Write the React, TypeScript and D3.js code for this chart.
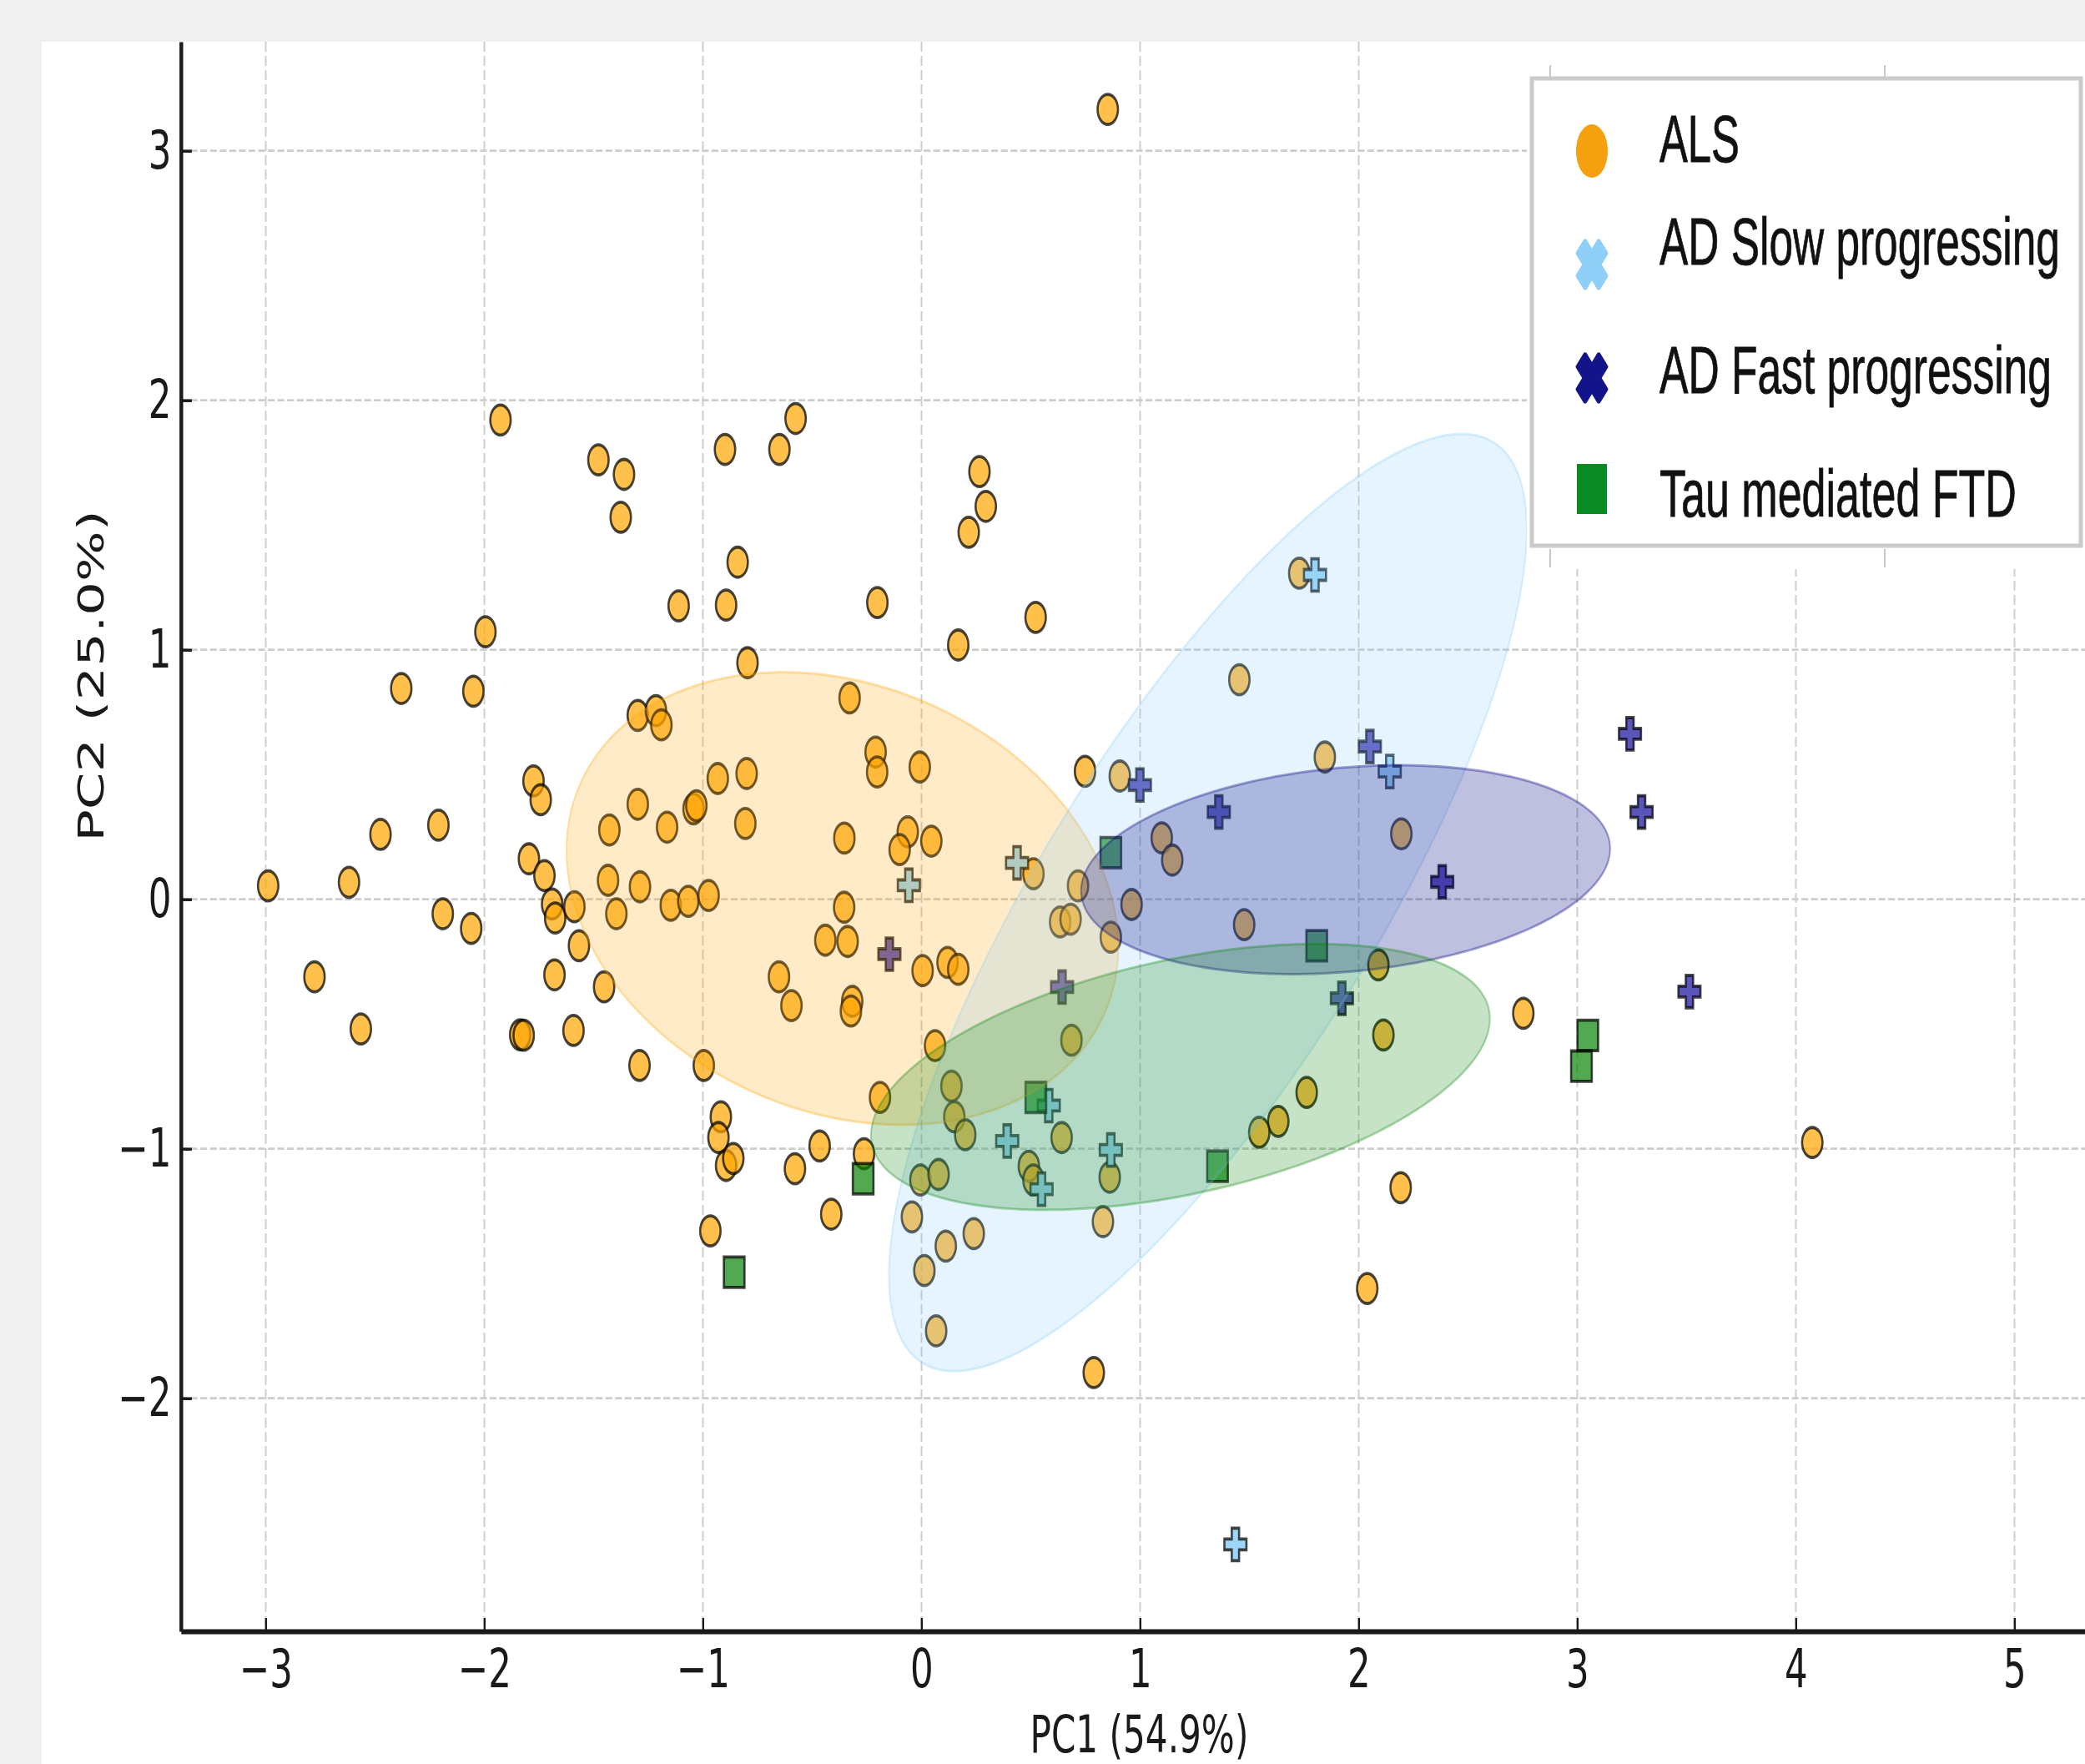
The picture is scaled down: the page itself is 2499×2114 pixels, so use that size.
import { useEffect, useRef } from "react";
import * as d3 from "d3";

// picture size and plot frame (px)
const W = 2499;
const H = 2114;
const PLOT = { left: 217, right: 2499, top: 50, bottom: 1955 };
// the whole figure is squashed horizontally, so draw in a wider virtual space
const K = 0.68;

const xTicks = [-3, -2, -1, 0, 1, 2, 3, 4, 5];
const yTicks = [-2, -1, 0, 1, 2, 3];

const groupNames = ["ALS", "AD Slow progressing", "AD Fast progressing", "Tau mediated FTD"];

// PC1, PC2 scores
const alsPoints: [number, number][] = [
  [0.852, 3.166], [-1.926, 1.921], [-0.576, 1.927], [-0.899, 1.803], [-0.65, 1.803],
  [-1.478, 1.761], [-1.361, 1.703], [-1.376, 1.531], [0.265, 1.714], [0.294, 1.575],
  [0.216, 1.471], [-0.841, 1.351], [-1.111, 1.176], [-0.894, 1.179], [-0.202, 1.189],
  [0.522, 1.13], [-1.995, 1.072], [0.168, 1.019], [-2.38, 0.845], [-2.05, 0.834],
  [-0.796, 0.948], [-0.329, 0.807], [1.454, 0.88], [1.728, 1.307], [-1.298, 0.737],
  [-1.215, 0.756], [-1.19, 0.699], [-0.21, 0.59], [-0.203, 0.51], [-0.008, 0.53],
  [0.748, 0.513], [0.907, 0.494], [1.845, 0.57], [-1.775, 0.474], [-1.742, 0.399],
  [-0.932, 0.484], [-0.8, 0.504], [-1.298, 0.381], [-1.043, 0.362], [-1.03, 0.375],
  [-1.428, 0.278], [-1.164, 0.289], [-0.806, 0.304], [-2.475, 0.26], [-2.21, 0.297],
  [-0.353, 0.245], [-0.063, 0.27], [-0.1, 0.199], [0.045, 0.233], [1.099, 0.246],
  [1.147, 0.157], [2.195, 0.262], [-1.796, 0.162], [-1.725, 0.095], [-2.989, 0.054],
  [-2.619, 0.068], [-1.434, 0.076], [-1.288, 0.05], [0.512, 0.102], [0.716, 0.054],
  [-1.69, -0.019], [-1.676, -0.075], [-1.588, -0.03], [-1.396, -0.058], [-1.147, -0.024],
  [-1.067, -0.008], [-0.974, 0.015], [-0.354, -0.032], [0.961, -0.021], [-2.19, -0.058],
  [-2.06, -0.117], [0.634, -0.091], [0.682, -0.08], [0.866, -0.152], [1.476, -0.102],
  [-0.44, -0.164], [-0.338, -0.169], [-1.567, -0.186], [-2.777, -0.311], [-1.679, -0.303],
  [-1.452, -0.351], [-0.652, -0.311], [0.005, -0.286], [0.119, -0.253], [0.168, -0.281],
  [2.09, -0.263], [-0.317, -0.409], [-0.323, -0.448], [-0.595, -0.426], [-2.565, -0.52],
  [-1.836, -0.543], [-1.82, -0.545], [-1.592, -0.526], [2.753, -0.457], [0.686, -0.565],
  [2.113, -0.544], [0.062, -0.587], [-1.29, -0.666], [-0.996, -0.666], [-0.19, -0.794],
  [0.137, -0.749], [0.15, -0.872], [0.2, -0.944], [1.762, -0.774], [1.632, -0.89],
  [1.545, -0.934], [0.641, -0.955], [-0.918, -0.872], [-0.929, -0.955], [-0.894, -1.067],
  [-0.861, -1.039], [-0.466, -0.989], [-0.263, -1.02], [-0.579, -1.08], [-0.005, -1.125],
  [0.078, -1.103], [0.491, -1.07], [0.512, -1.125], [0.861, -1.114], [2.192, -1.156],
  [4.075, -0.975], [-0.413, -1.262], [-0.044, -1.273], [-0.966, -1.329], [0.111, -1.39],
  [0.239, -1.34], [0.83, -1.292], [0.013, -1.488], [0.067, -1.73], [2.039, -1.56],
  [0.788, -1.897],
];

const adSlowPoints: [number, number][] = [
  [1.8, 1.3], [2.142, 0.512], [0.437, 0.146], [-0.058, 0.056], [0.582, -0.827],
  [0.392, -0.969], [0.866, -1.005], [0.549, -1.162], [1.436, -2.586],
];

const adFastPoints: [number, number][] = [
  [3.241, 0.663], [2.051, 0.612], [3.294, 0.35], [1.36, 0.35], [0.999, 0.458],
  [2.382, 0.07], [-0.147, -0.22], [0.643, -0.352], [1.923, -0.397], [3.513, -0.37],
];

const tauPoints: [number, number][] = [
  [0.866, 0.187], [1.808, -0.186], [0.523, -0.794], [1.354, -1.07], [-0.267, -1.12],
  [-0.857, -1.495], [3.048, -0.546], [3.019, -0.669],
];

// confidence ellipses: [centre x, centre y, width, height, angle in degrees]
const alsEllipse = [-0.362, 0.003, 2.58, 1.734, -16.2];
const adSlowEllipse = [1.31, -0.013, 4.525, 1.467, 53.9];
const adFastEllipse = [1.94, 0.1185, 2.427, 0.818, 4.5];
const tauEllipse = [1.1845, -0.712, 2.874, 0.944, 10.5];

const FONT = "'DejaVu Sans', sans-serif";

const App = () => {
  const svgRef = useRef<SVGSVGElement>(null);

  useEffect(() => {
    const svg = d3.select(svgRef.current);
    svg.selectAll("*").remove();

    svg.append("rect").attr("width", W).attr("height", H).attr("fill", "#f0f0f0");
    svg.append("rect").attr("x", 50).attr("y", 50).attr("width", W - 50).attr("height", H - 50).attr("fill", "#fff");

    // scales in the virtual (unsquashed) space
    const x = d3.scaleLinear().domain([-3, 5]).range([318.5 / K, 2414.5 / K]);
    x.domain([x.invert(PLOT.left / K), x.invert(PLOT.right / K)]).range([PLOT.left / K, PLOT.right / K]);
    const y = d3.scaleLinear().domain([-2, 3]).range([1675.7, 180.7]);
    y.domain([y.invert(PLOT.bottom), y.invert(PLOT.top)]).range([PLOT.bottom, PLOT.top]);

    const g = svg.append("g").attr("transform", `scale(${K},1)`);

    // grid
    g.selectAll(".vgrid")
      .data(xTicks)
      .join("line")
      .attr("x1", (d) => x(d))
      .attr("x2", (d) => x(d))
      .attr("y1", PLOT.top)
      .attr("y2", PLOT.bottom)
      .attr("stroke", "#cdcdcd")
      .attr("stroke-width", 2.8)
      .attr("stroke-dasharray", "12,5");
    g.selectAll(".hgrid")
      .data(yTicks)
      .join("line")
      .attr("x1", PLOT.left / K)
      .attr("x2", PLOT.right / K)
      .attr("y1", (d) => y(d))
      .attr("y2", (d) => y(d))
      .attr("stroke", "#cdcdcd")
      .attr("stroke-width", 2.8)
      .attr("stroke-dasharray", "12,5");

    // points
    const stroke = (sel: any) => sel.attr("stroke", "#000").attr("stroke-opacity", 0.72).attr("stroke-width", 3.8);

    g.append("g")
      .selectAll("circle")
      .data(alsPoints)
      .join("circle")
      .attr("cx", (d) => x(d[0]))
      .attr("cy", (d) => y(d[1]))
      .attr("r", 18)
      .attr("fill", "#ffa500")
      .attr("fill-opacity", 0.7)
      .call(stroke);

    const cross = d3.symbol(d3.symbolCross, 840);
    const square = d3.symbol(d3.symbolSquare, 1330);

    g.append("g")
      .selectAll("path")
      .data(adSlowPoints)
      .join("path")
      .attr("d", cross)
      .attr("transform", (d) => `translate(${x(d[0])},${y(d[1])})`)
      .attr("fill", "#9dd6f7")
      .call(stroke);

    g.append("g")
      .selectAll("path")
      .data(adFastPoints)
      .join("path")
      .attr("d", cross)
      .attr("transform", (d) => `translate(${x(d[0])},${y(d[1])})`)
      .attr("fill", "#5b55b9")
      .call(stroke);

    g.append("g")
      .selectAll("path")
      .data(tauPoints)
      .join("path")
      .attr("d", square)
      .attr("transform", (d) => `translate(${x(d[0])},${y(d[1])})`)
      .attr("fill", "#008000")
      .attr("fill-opacity", 0.68)
      .call(stroke);

    // confidence ellipses, built in data space and mapped through the scales
    const ellipsePath = (e: number[]) => {
      const [cx, cy, w, h, ang] = e;
      const a = (ang * Math.PI) / 180;
      const pts = d3.range(0, 2 * Math.PI, Math.PI / 90).map((t) => {
        const ex = (w / 2) * Math.cos(t);
        const ey = (h / 2) * Math.sin(t);
        return [x(cx + ex * Math.cos(a) - ey * Math.sin(a)), y(cy + ex * Math.sin(a) + ey * Math.cos(a))] as [number, number];
      });
      return d3.line().curve(d3.curveLinearClosed)(pts);
    };

    const ellipses = [
      { e: alsEllipse, c: "#ffa500", o: 0.22 },
      { e: adSlowEllipse, c: "#87cefa", o: 0.22 },
      { e: adFastEllipse, c: "#000080", o: 0.25 },
      { e: tauEllipse, c: "#008000", o: 0.22 },
    ];
    g.append("g")
      .selectAll("path")
      .data(ellipses)
      .join("path")
      .attr("d", (d) => ellipsePath(d.e))
      .attr("fill", (d) => d.c)
      .attr("fill-opacity", (d) => d.o)
      .attr("stroke", (d) => d.c)
      .attr("stroke-opacity", (d) => d.o * 1.4)
      .attr("stroke-width", 3);

    // axes
    const fmt = d3.format("d");
    const xAxis = g
      .append("g")
      .attr("transform", `translate(0,${PLOT.bottom})`)
      .call(d3.axisBottom(x).tickValues(xTicks).tickFormat(fmt as any).tickSizeInner(-16).tickSizeOuter(0).tickPadding(22));
    const yAxis = g
      .append("g")
      .attr("transform", `translate(${PLOT.left / K},0)`)
      .call(d3.axisLeft(y).tickValues(yTicks).tickFormat(fmt as any).tickSizeInner(-19).tickSizeOuter(0).tickPadding(17));

    xAxis.select(".domain").attr("stroke", "#1a1a1a").attr("stroke-width", 6);
    yAxis.select(".domain").attr("stroke", "#1a1a1a").attr("stroke-width", 6.5);
    xAxis.selectAll(".tick line").attr("stroke", "#1a1a1a").attr("stroke-width", 3.5);
    yAxis.selectAll(".tick line").attr("stroke", "#1a1a1a").attr("stroke-width", 3.5);
    [xAxis, yAxis].forEach((a) =>
      a.selectAll(".tick text").attr("font-family", FONT).attr("font-size", 64).attr("fill", "#1a1a1a")
    );

    g.append("text")
      .attr("x", 2008)
      .attr("y", 2100)
      .attr("text-anchor", "middle")
      .attr("font-family", FONT)
      .attr("font-size", 62)
      .attr("fill", "#1a1a1a")
      .text("PC1 (54.9%)");

    g.append("text")
      .attr("transform", `translate(${124 / K},810) rotate(-90)`)
      .attr("text-anchor", "middle")
      .attr("font-family", FONT)
      .attr("font-size", 64)
      .attr("fill", "#1a1a1a")
      .text("PC2 (25.0%)");

    // legend (pasted panel, real pixel space)
    const lg = svg.append("g");
    lg.append("rect").attr("x", 1830).attr("y", 50).attr("width", W - 1830).attr("height", 632).attr("fill", "#fff");
    [1858, 2259].forEach((lx) => {
      lg.append("line").attr("x1", lx).attr("x2", lx).attr("y1", 78).attr("y2", 92).attr("stroke", "#c8c8c8").attr("stroke-width", 2);
      lg.append("line").attr("x1", lx).attr("x2", lx).attr("y1", 658).attr("y2", 680).attr("stroke", "#c8c8c8").attr("stroke-width", 2);
    });
    lg.append("rect")
      .attr("x", 1836)
      .attr("y", 94)
      .attr("width", 658)
      .attr("height", 560)
      .attr("fill", "#fff")
      .attr("stroke", "#cbcbcb")
      .attr("stroke-width", 5);

    const markerY = [181, 317, 453, 586];
    const baseY = [194, 317, 471, 619];
    const textLen = [96, 480, 470, 428];
    const mx = 1908;

    lg.append("ellipse").attr("cx", mx).attr("cy", markerY[0]).attr("rx", 19).attr("ry", 32).attr("fill", "#f5a00e");

    const xShape = (rx: number, ry: number) => {
      const d = 0.52;
      const p = [
        [0, -d], [1 - d, -1], [1, -1 + d], [d, 0], [1, 1 - d], [1 - d, 1],
        [0, d], [-1 + d, 1], [-1, 1 - d], [-d, 0], [-1, -1 + d], [-1 + d, -1],
      ].map(([u, v]) => [u * rx, v * ry] as [number, number]);
      return d3.line().curve(d3.curveLinearClosed)(p);
    };
    [
      { c: "#8dcff6", yy: markerY[1] },
      { c: "#14148a", yy: markerY[2] },
    ].forEach((m) =>
      lg.append("path")
        .attr("d", xShape(17, 28))
        .attr("transform", `translate(${mx},${m.yy})`)
        .attr("fill", m.c)
        .attr("stroke", m.c)
        .attr("stroke-width", 5)
        .attr("stroke-linejoin", "round")
    );
    lg.append("rect").attr("x", mx - 18).attr("y", markerY[3] - 30).attr("width", 36).attr("height", 60).attr("fill", "#0a8a22");

    // legend labels: natural width measured, then squashed to the target width
    lg.selectAll(".ltext")
      .data(groupNames)
      .join("text")
      .attr("font-family", "'Liberation Sans', Arial, sans-serif")
      .attr("font-size", 80)
      .attr("fill", "#111")
      .attr("stroke", "#111")
      .attr("stroke-width", 0.8)
      .text((d) => d)
      .attr("transform", function (d, i) {
        const len = (this as SVGTextElement).getComputedTextLength() || 1;
        return `translate(1989,${baseY[i]}) scale(${textLen[i] / len},1)`;
      });
  }, []);

  return (
    <div>
      <style>{`body{margin:0}`}</style>
      <svg ref={svgRef} width={W} height={H} style={{ display: "block" }}></svg>
    </div>
  );
};

export default App;
